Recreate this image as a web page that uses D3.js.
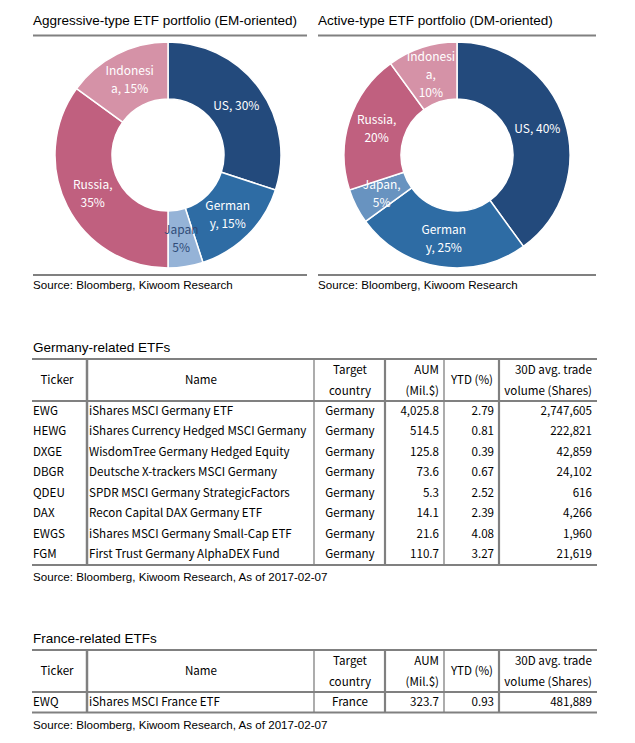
<!DOCTYPE html>
<html lang="en">
<head>
  <meta charset="UTF-8">
  <title>ETF portfolios</title>
  <style>
    body { margin: 0; padding: 0; background: #fff; }
    .ttl { font-family: 'Liberation Sans', Arial, sans-serif; font-size: 13.5px; fill: #000; }
    .src { font-family: 'Liberation Sans', Arial, sans-serif; font-size: 11.6px; fill: #000; }
    .lbl { font-family: 'Noto Sans CJK KR', 'Noto Sans', sans-serif; font-size: 12px; }
    .cell { font-family: 'Noto Sans CJK KR', 'Noto Sans', sans-serif; font-size: 11.6px; fill: #000; }
  </style>
</head>
<body>
  <div id="chart"></div>

  <script src="https://cdnjs.cloudflare.com/ajax/libs/d3/7.8.1/d3.min.js"></script>
  <script>
    // donut data
    const countries = ["US", "Germany", "Japan", "Russia", "Indonesia"];
    const emValues = [30, 15, 5, 35, 15];
    const dmValues = [40, 25, 5, 20, 10];
    const emLabels = [["US, 30%"], ["German", "y, 15%"], ["Japan", "5%"], ["Russia,", "35%"], ["Indonesi", "a, 15%"]];
    const dmLabels = [["US, 40%"], ["German", "y, 25%"], ["Japan,", "5%"], ["Russia,", "20%"], ["Indonesi", "a,", "10%"]];

    // table data
    const headers = [["Ticker"], ["Name"], ["Target", "country"], ["AUM", "(Mil.$)"], ["YTD (%)"], ["30D avg. trade", "volume (Shares)"]];
    const deTickers = ["EWG", "HEWG", "DXGE", "DBGR", "QDEU", "DAX", "EWGS", "FGM"];
    const deNames = ["iShares MSCI Germany ETF", "iShares Currency Hedged MSCI Germany", "WisdomTree Germany Hedged Equity",
      "Deutsche X-trackers MSCI Germany", "SPDR MSCI Germany StrategicFactors", "Recon Capital DAX Germany ETF",
      "iShares MSCI Germany Small-Cap ETF", "First Trust Germany AlphaDEX Fund"];
    const deTargets = ["Germany", "Germany", "Germany", "Germany", "Germany", "Germany", "Germany", "Germany"];
    const deAum = [4025.8, 514.5, 125.8, 73.6, 5.3, 14.1, 21.6, 110.7];
    const deYtd = [2.79, 0.81, 0.39, 0.67, 2.52, 2.39, 4.08, 3.27];
    const deVolume = [2747605, 222821, 42859, 24102, 616, 4266, 1960, 21619];

    const frTickers = ["EWQ"];
    const frNames = ["iShares MSCI France ETF"];
    const frTargets = ["France"];
    const frAum = [323.7];
    const frYtd = [0.93];
    const frVolume = [481889];

    const colors = d3.scaleOrdinal().domain(countries)
      .range(["#234a7c", "#2e6ca4", "#95b3d7", "#c0607f", "#d592a7"]);
    const grey = "#808080";

    const svg = d3.select("#chart").append("svg")
      .attr("width", 635).attr("height", 743);

    function drawDonut(x0, x1, cx, title, values, labels, japanColor, japanText) {
      const g = svg.append("g");
      g.append("text").attr("class", "ttl").attr("x", x0).attr("y", 25).text(title);
      g.append("line").attr("x1", x0).attr("x2", x1).attr("y1", 35.5).attr("y2", 35.5)
        .attr("stroke", grey).attr("stroke-width", 2);
      g.append("line").attr("x1", x0).attr("x2", x1).attr("y1", 275).attr("y2", 275)
        .attr("stroke", grey).attr("stroke-width", 2);
      g.append("text").attr("class", "src").attr("x", x0).attr("y", 289)
        .text("Source: Bloomberg, Kiwoom Research");

      const pie = d3.pie().sort(null).value(d => d.v);
      const arc = d3.arc().innerRadius(56).outerRadius(113);
      const arcs = pie(countries.map((c, i) => ({ c, v: values[i], lines: labels[i] })));
      const pg = g.append("g").attr("transform", `translate(${cx},155)`);
      pg.selectAll("path").data(arcs).enter().append("path")
        .attr("d", arc)
        .attr("fill", d => d.data.c === "Japan" ? japanColor : colors(d.data.c))
        .attr("stroke", "#fff").attr("stroke-width", 1.5);
      pg.selectAll("text").data(arcs).enter().append("text")
        .attr("class", "lbl")
        .attr("text-anchor", "middle")
        .attr("fill", d => d.data.c === "Japan" ? japanText : "#fff")
        .each(function (d) {
          const [x, y] = arc.centroid(d);
          const n = d.data.lines.length;
          d3.select(this).selectAll("tspan").data(d.data.lines).enter().append("tspan")
            .attr("x", x)
            .attr("y", (l, i) => y + (i - (n - 1) / 2) * 18)
            .attr("dy", "0.35em")
            .text(l => l);
        });
    }

    drawDonut(33, 307, 168, "Aggressive-type ETF portfolio (EM-oriented)", emValues, emLabels, "#95b3d7", "#2f4b78");
    drawDonut(318, 596, 457, "Active-type ETF portfolio (DM-oriented)", dmValues, dmLabels, "#6893c0", "#fff");

    // table layout
    const colEdges = [32, 87, 314, 385, 444, 499, 597];
    const colAnchor = ["middle", "middle", "middle", "end", "middle", "end"];
    const colX = [57, 201, 350, 439, 472, 592];
    const cellAnchor = ["start", "start", "middle", "end", "end", "end"];
    const cellX = [33, 89, 350, 439, 494, 592];
    const vWidth = [2.5, 1.3, 2.2, 1.3, 2.2];

    function drawTable(top, title, tickers, names, targets, aum, ytd, volume) {
      const g = svg.append("g");
      const headBottom = top + 42;
      const rowH = 20.5;
      const bottom = headBottom + rowH * tickers.length;
      const y = d3.scaleBand().domain(tickers).range([headBottom, bottom]);

      g.append("text").attr("class", "ttl").attr("x", 33).attr("y", top - 7).text(title);

      // vertical rules
      g.selectAll("line.v").data(colEdges.slice(1, -1)).enter().append("line")
        .attr("x1", d => d).attr("x2", d => d).attr("y1", top).attr("y2", bottom)
        .attr("stroke", grey).attr("stroke-width", (d, i) => vWidth[i]);
      // horizontal rules
      g.selectAll("line.h").data([top, headBottom, bottom]).enter().append("line")
        .attr("x1", colEdges[0]).attr("x2", colEdges[colEdges.length - 1])
        .attr("y1", d => d).attr("y2", d => d)
        .attr("stroke", grey).attr("stroke-width", 2);

      // header
      headers.forEach((h, i) => {
        const t = g.append("text").attr("class", "cell").attr("text-anchor", colAnchor[i]);
        h.forEach((line, j) => {
          t.append("tspan").attr("x", colX[i])
            .attr("y", top + 21 + (j - (h.length - 1) / 2) * 21)
            .attr("dy", "0.35em").text(line);
        });
      });

      // rows
      const fAum = d3.format(",.1f"), fYtd = d3.format(".2f"), fVol = d3.format(",");
      tickers.forEach((tk, r) => {
        const cells = [tk, names[r], targets[r], fAum(aum[r]), fYtd(ytd[r]), fVol(volume[r])];
        const cy = y(tk) + y.bandwidth() / 2 - 0.5;
        cells.forEach((c, i) => {
          g.append("text").attr("class", "cell")
            .attr("x", cellX[i]).attr("y", cy).attr("dy", "0.35em")
            .attr("text-anchor", cellAnchor[i]).text(c);
        });
      });

      g.append("text").attr("class", "src").attr("x", 33).attr("y", bottom + 16)
        .text("Source: Bloomberg, Kiwoom Research, As of 2017-02-07");
    }

    drawTable(359, "Germany-related ETFs", deTickers, deNames, deTargets, deAum, deYtd, deVolume);
    drawTable(650, "France-related ETFs", frTickers, frNames, frTargets, frAum, frYtd, frVolume);
  </script>
</body>
</html>
